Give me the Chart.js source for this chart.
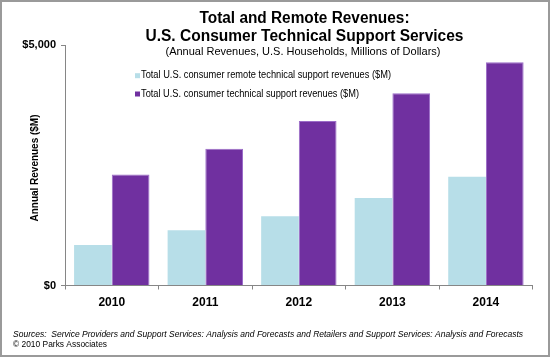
<!DOCTYPE html>
<html>
<head>
<meta charset="utf-8">
<script src="https://cdn.jsdelivr.net/npm/chart.js@4/dist/chart.umd.min.js"></script>
<style>
  html, body { margin: 0; padding: 0; background: #fff; }
  #wrap { position: relative; width: 550px; height: 357px; }
  #c { position: absolute; left: 0; top: 0; }
  #frame { position: absolute; left: 0; top: 0; width: 550px; height: 357px; box-sizing: border-box; border: 2px solid #9a9a9a; pointer-events: none; }
</style>
</head>
<body>
<div id="wrap">
  <canvas id="c" width="550" height="357"></canvas>
  <div id="frame"></div>
</div>
<script>
// ---- data ----
const categories = ['2010', '2011', '2012', '2013', '2014'];
const remoteRevenues = [840, 1150, 1440, 1820, 2260];
const totalRevenues = [2310, 2845, 3420, 3995, 4640];
const seriesLabels = [
  'Total U.S. consumer remote technical support revenues ($M)',
  'Total U.S. consumer technical support revenues ($M)'
];
const yTickValues = [0, 5000];
const yTickLabels = ['$0', '$5,000'];
const titleLines = ['Total and Remote Revenues:', 'U.S. Consumer Technical Support Services'];
const subtitleText = '(Annual Revenues, U.S. Households, Millions of Dollars)';
const yAxisTitle = 'Annual Revenues ($M)';
const sourceText = 'Sources:  Service Providers and Support Services: Analysis and Forecasts and Retailers and Support Services: Analysis and Forecasts';
const copyrightText = '\u00A9 2010 Parks Associates';

// ---- styles ----
const FONT = "'Liberation Sans', Arial, sans-serif";
const lightBlue = '#B7DEE8';
const purple = '#7030A0';
const axisGray = '#868686';

function drawText(ctx, text, x, y, font, align, baseline, maxW) {
  ctx.save();
  ctx.font = font;
  ctx.fillStyle = '#000';
  ctx.textAlign = align;
  ctx.textBaseline = baseline;
  if (maxW) ctx.fillText(text, x, y, maxW); else ctx.fillText(text, x, y);
  ctx.restore();
}

const textPlugin = {
  id: 'textPlugin',
  afterDraw(chart) {
    const ctx = chart.ctx;
    // titles
    drawText(ctx, titleLines[0], 304.5, 23.3, 'bold 16px ' + FONT, 'center', 'alphabetic', 210);
    drawText(ctx, titleLines[1], 304.5, 40.7, 'bold 16px ' + FONT, 'center', 'alphabetic', 318);
    drawText(ctx, subtitleText, 303, 55, '11px ' + FONT, 'center', 'alphabetic', 275);
    // legend
    const ds = chart.data.datasets;
    const rowY = [75.7, 94];
    const maxWs = [250, 218];
    ds.forEach((d, i) => {
      ctx.save();
      ctx.fillStyle = d.backgroundColor;
      ctx.fillRect(135, rowY[i] - 2.5, 5, 5);
      ctx.restore();
      drawText(ctx, d.label, 141, rowY[i], '10px ' + FONT, 'left', 'middle', maxWs[i]);
    });
    // y axis title
    ctx.save();
    ctx.translate(38, 168);
    ctx.rotate(-Math.PI / 2);
    drawText(ctx, yAxisTitle, 0, 0, 'bold 10px ' + FONT, 'center', 'alphabetic', 107);
    ctx.restore();
    // footer
    drawText(ctx, sourceText, 13, 336.7, 'italic 9.5px ' + FONT, 'left', 'alphabetic', 510);
    drawText(ctx, copyrightText, 13, 347.3, '9px ' + FONT, 'left', 'alphabetic', 94);
  }
};

new Chart(document.getElementById('c'), {
  type: 'bar',
  data: {
    labels: categories,
    datasets: [
      {
        label: seriesLabels[0],
        data: remoteRevenues,
        backgroundColor: lightBlue,
        borderWidth: 0,
        categoryPercentage: 0.806,
        barPercentage: 1.0
      },
      {
        label: seriesLabels[1],
        data: totalRevenues,
        backgroundColor: purple,
        borderColor: '#9b6cc8',
        borderWidth: 1,
        categoryPercentage: 0.806,
        barPercentage: 1.0
      }
    ]
  },
  options: {
    responsive: false,
    animation: false,
    devicePixelRatio: 1,
    layout: { padding: { left: 0, right: 17.3, top: 45, bottom: 0 } },
    plugins: {
      legend: { display: false },
      title: { display: false },
      tooltip: { enabled: false }
    },
    scales: {
      x: {
        afterFit(s) { s.height = 71.5; },
        grid: { display: true, offset: true, drawOnChartArea: false, drawTicks: true, tickLength: 4, color: axisGray, lineWidth: 1 },
        border: { display: true, color: axisGray, width: 1 },
        ticks: { color: '#000', font: { family: FONT, size: 12, weight: 'bold' }, padding: 6, maxRotation: 0 }
      },
      y: {
        min: 0,
        max: 5000,
        afterFit(s) { s.width = 65; },
        afterBuildTicks(s) { s.ticks = yTickValues.map(v => ({ value: v })); },
        grid: { display: true, drawOnChartArea: false, drawTicks: true, tickLength: 4, color: axisGray, lineWidth: 1 },
        border: { display: true, color: axisGray, width: 1 },
        ticks: {
          color: '#000',
          font: { family: FONT, size: 11, weight: 'bold' },
          padding: 5,
          callback: (v, i) => yTickLabels[yTickValues.indexOf(v)]
        }
      }
    }
  },
  plugins: [textPlugin]
});
</script>
</body>
</html>
